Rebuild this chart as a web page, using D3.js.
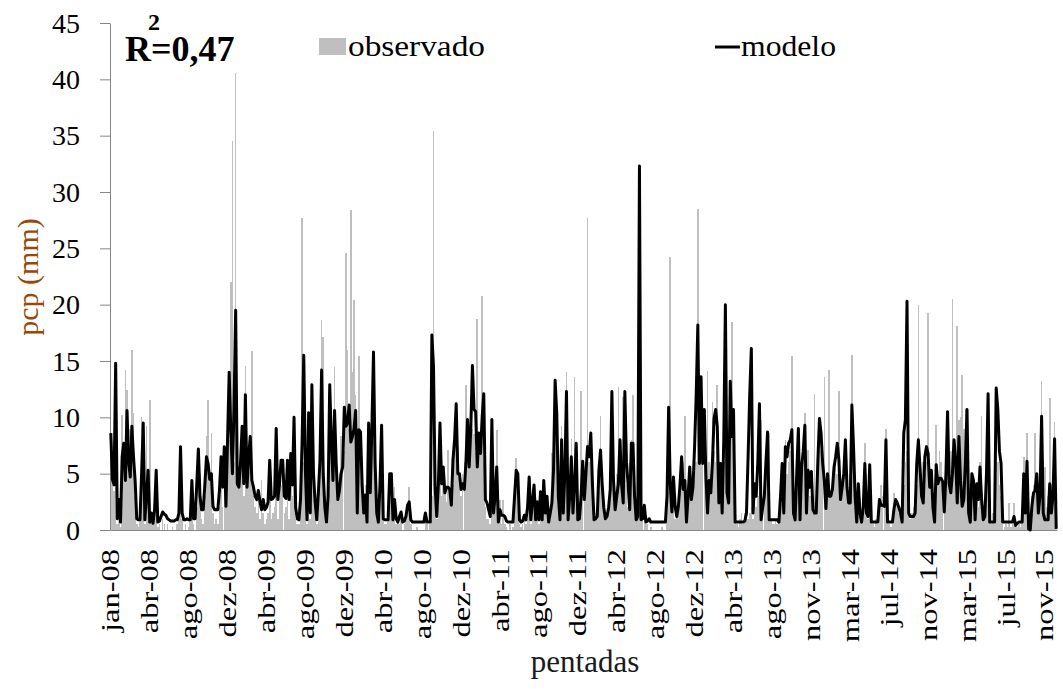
<!DOCTYPE html>
<html>
<head>
<meta charset="utf-8">
<script src="https://cdn.jsdelivr.net/npm/d3@7"></script>
<style>
  body { margin: 0; background: #fff; }
  svg text { font-family: "Liberation Serif", "Times New Roman", Times, "DejaVu Serif", serif !important; }
</style>
</head>
<body>
<div id="chart"></div>
<script>
// precipitação por pêntada (mm), jan-08 .. dez-15
var observado = [
  8.0, 4.0, 3.5, 4.0, 0.5, 1.0, 0.3, 10.2, 6.0, 14.2,
  12.4, 5.0, 9.0, 16.0, 10.4, 3.0, 0.5, 0.3, 2.0, 10.0,
  6.0, 0.5, 9.2, 3.0, 11.5, 1.0, 0.5, 1.0, 2.0, 0.3,
  0.5, 0.0, 1.0, 0.5, 0.0, 0.5, 0.0, 0.0, 0.3, 0.0,
  0.0, 0.5, 2.0, 7.5, 1.0, 0.0, 0.5, 0.0, 0.3, 1.0,
  3.5, 0.5, 0.0, 2.0, 6.8, 5.0, 1.0, 0.5, 3.0, 8.3,
  11.5, 5.0, 8.6, 1.5, 0.5, 1.0, 0.5, 2.0, 5.0, 2.0,
  6.0, 3.0, 7.0, 8.0, 22.0, 34.5, 6.0, 40.6, 9.2, 4.0,
  5.0, 9.2, 3.0, 14.6, 4.0, 5.0, 6.0, 15.9, 3.0, 2.0,
  1.5, 2.5, 1.0, 4.4, 1.5, 0.5, 1.0, 1.5, 4.0, 1.0,
  1.5, 2.0, 6.0, 1.0, 3.0, 4.0, 5.0, 1.5, 2.0, 4.0,
  1.0, 5.0, 3.0, 8.0, 1.0, 0.5, 0.5, 2.0, 27.7, 6.0,
  4.0, 0.5, 8.0, 1.0, 10.0, 4.0, 2.0, 0.5, 3.0, 5.0,
  18.6, 17.1, 3.0, 0.5, 2.0, 10.0, 7.0, 6.0, 14.5, 7.0,
  4.0, 5.0, 8.3, 6.0, 7.0, 24.6, 16.0, 9.0, 28.4, 14.0,
  20.4, 12.0, 3.0, 15.4, 9.0, 5.0, 2.0, 4.0, 1.0, 8.0,
  4.0, 7.0, 10.0, 5.0, 2.0, 1.0, 3.0, 7.0, 1.0, 0.5,
  0.5, 1.0, 4.0, 3.0, 1.0, 3.8, 0.5, 1.0, 0.5, 1.0,
  0.0, 0.5, 1.0, 2.0, 3.8, 0.5, 0.0, 0.0, 0.0, 0.3,
  0.0, 0.0, 0.0, 0.0, 1.0, 0.5, 0.0, 0.5, 3.0, 35.4,
  3.0, 1.0, 2.0, 5.0, 3.0, 4.5, 4.0, 2.5, 7.1, 3.0,
  2.0, 4.0, 7.0, 8.0, 7.4, 4.0, 3.0, 5.0, 6.0, 12.9,
  8.0, 6.0, 8.0, 9.0, 8.5, 9.0, 18.7, 7.0, 8.0, 20.8,
  6.0, 2.0, 1.0, 1.0, 0.5, 6.0, 2.0, 3.0, 8.9, 1.0,
  2.7, 0.5, 2.7, 0.5, 0.3, 0.0, 0.5, 0.0, 0.3, 2.0,
  6.4, 4.0, 0.5, 0.3, 0.5, 1.5, 0.5, 1.0, 4.0, 0.5,
  2.0, 3.0, 1.0, 2.0, 0.5, 2.5, 1.0, 3.5, 2.0, 2.5,
  0.5, 1.0, 6.8, 4.0, 10.0, 9.0, 2.0, 1.5, 9.2, 3.0,
  4.0, 14.0, 2.0, 3.0, 8.1, 2.0, 13.6, 5.0, 1.0, 1.5,
  12.3, 5.0, 3.0, 5.0, 27.7, 6.0, 7.0, 5.0, 1.0, 1.5,
  2.0, 4.0, 10.1, 4.0, 2.0, 1.0, 1.5, 2.0, 3.0, 6.0,
  4.0, 2.0, 5.0, 12.7, 6.0, 3.0, 11.8, 6.0, 4.0, 2.0,
  6.0, 8.0, 12.0, 5.0, 2.0, 1.0, 4.4, 2.0, 1.0, 1.5,
  0.5, 0.5, 0.0, 0.3, 0.0, 0.0, 0.0, 0.0, 0.0, 0.0,
  0.3, 0.0, 0.0, 3.0, 5.0, 24.2, 2.0, 4.0, 1.0, 1.5,
  2.0, 5.0, 4.0, 6.0, 10.1, 2.0, 3.0, 4.0, 3.0, 5.0,
  7.0, 6.0, 28.5, 8.0, 7.0, 6.0, 8.0, 5.0, 14.1, 6.0,
  5.0, 11.4, 7.0, 6.0, 12.9, 4.0, 6.0, 5.0, 6.0, 7.0,
  5.0, 6.0, 7.0, 18.5, 6.0, 2.0, 0.5, 0.3, 1.0, 1.5,
  0.5, 1.5, 2.0, 1.0, 1.5, 2.0, 1.0, 3.0, 2.0, 3.0,
  4.0, 9.8, 2.0, 3.0, 5.0, 6.0, 8.6, 1.0, 0.5, 0.5,
  1.0, 0.5, 1.0, 3.0, 5.0, 2.0, 8.0, 5.0, 6.0, 7.0,
  15.4, 2.0, 1.0, 4.0, 7.0, 1.0, 4.0, 6.0, 10.4, 2.0,
  7.1, 3.0, 4.0, 3.0, 12.1, 2.0, 5.0, 8.0, 7.0, 5.0,
  13.6, 3.0, 4.0, 14.2, 3.0, 4.0, 5.0, 6.0, 5.0, 12.3,
  3.0, 4.0, 5.0, 6.0, 4.0, 3.0, 5.0, 15.5, 6.0, 2.0,
  1.0, 4.0, 1.5, 1.0, 2.0, 7.7, 5.0, 1.0, 4.0, 1.0,
  0.5, 0.3, 1.0, 0.5, 2.0, 4.0, 3.0, 2.0, 9.0, 1.0,
  0.5, 0.3, 1.0, 3.3, 2.0, 2.5, 1.5, 1.0, 0.5, 4.0,
  6.0, 7.0, 2.0, 1.0, 1.5, 2.0, 3.0, 4.0, 20.0, 5.0,
  3.0, 6.0, 5.0, 6.0, 19.3, 5.0, 4.0, 2.0, 3.0, 9.3,
  5.0, 7.0, 6.0, 4.0, 3.0, 6.0, 8.0, 6.0, 7.0, 20.5,
  6.0, 7.0, 18.1, 9.8, 10.0, 13.8, 9.0, 10.7, 6.0, 2.0,
  1.0, 4.0, 3.0, 2.0, 3.0, 2.0, 6.0, 10.1, 2.0, 1.0,
  4.0, 11.5, 1.0, 0.5, 1.5, 0.5, 9.0, 6.0, 4.0, 3.0,
  0.5, 0.3, 0.5, 0.3, 2.4, 0.3, 0.5, 2.4, 1.0, 0.3,
  0.5, 0.3, 1.0, 6.5, 2.0, 8.6, 1.0, 0.5, 3.0, 4.0,
  8.6, 5.0, 3.0, 4.0, 13.2, 4.0, 5.6, 2.0, 3.0, 11.7,
  4.0, 3.0, 9.6, 3.0
];

var modelo = [
  8.6, 4.5, 4.0, 14.8, 1.0, 2.7, 0.7, 6.5, 7.7, 4.4,
  10.6, 6.0, 4.7, 9.2, 6.5, 4.4, 1.0, 0.9, 0.9, 5.0,
  9.5, 0.9, 3.0, 5.3, 0.7, 1.5, 0.6, 1.8, 5.3, 0.7,
  0.8, 1.2, 1.6, 1.4, 1.3, 1.0, 0.9, 0.8, 0.8, 0.8,
  0.9, 0.9, 1.5, 7.4, 1.5, 0.9, 0.9, 1.0, 0.9, 0.9,
  4.4, 1.0, 1.0, 4.0, 7.2, 3.0, 1.8, 1.8, 4.0, 6.5,
  5.9, 4.5, 5.0, 2.1, 1.8, 1.8, 1.8, 3.5, 6.5, 3.8,
  7.4, 2.1, 8.0, 14.0, 8.9, 5.0, 10.9, 19.5, 4.1, 3.8,
  6.0, 9.2, 4.1, 12.0, 3.8, 6.5, 8.3, 4.4, 3.8, 3.0,
  2.7, 3.5, 2.5, 1.8, 2.7, 1.8, 2.0, 2.5, 6.2, 2.7,
  2.8, 3.0, 9.0, 2.7, 4.0, 6.2, 6.2, 3.0, 2.8, 6.2,
  2.7, 6.8, 4.0, 10.0, 2.0, 1.0, 0.9, 2.7, 8.0, 15.5,
  5.3, 0.9, 10.4, 1.5, 12.9, 5.0, 2.5, 0.9, 3.3, 6.2,
  14.2, 5.0, 2.0, 0.7, 3.0, 12.9, 8.0, 4.4, 10.6, 5.9,
  2.7, 3.5, 5.0, 5.6, 10.9, 9.2, 9.5, 11.1, 7.8, 8.3,
  9.0, 10.6, 1.5, 8.9, 8.7, 4.0, 1.5, 3.1, 0.7, 9.5,
  3.3, 9.0, 15.8, 5.9, 1.5, 0.7, 4.0, 9.3, 1.0, 0.9,
  0.9, 0.9, 5.0, 5.0, 0.9, 2.7, 1.0, 0.7, 1.2, 1.6,
  0.7, 0.8, 1.2, 2.2, 2.5, 0.9, 0.7, 0.7, 0.7, 0.7,
  0.7, 0.7, 0.7, 0.7, 1.5, 0.7, 0.7, 0.7, 17.3, 14.5,
  3.8, 1.2, 4.0, 9.5, 4.1, 5.6, 3.3, 3.8, 3.8, 3.6,
  2.2, 6.2, 8.0, 11.2, 5.0, 5.0, 3.6, 4.1, 3.6, 6.0,
  9.8, 5.6, 9.0, 14.6, 10.7, 10.5, 5.6, 8.6, 6.8, 10.0,
  12.1, 2.7, 2.4, 1.8, 1.2, 9.8, 1.5, 3.0, 5.6, 0.7,
  1.8, 1.3, 1.3, 1.2, 0.8, 0.7, 0.7, 0.7, 0.7, 3.0,
  5.3, 5.0, 0.9, 0.7, 0.8, 1.3, 0.9, 2.0, 4.7, 0.9,
  2.5, 4.0, 0.9, 2.5, 0.9, 3.4, 0.9, 4.4, 1.5, 3.0,
  0.7, 1.5, 2.4, 5.3, 13.3, 10.4, 3.0, 0.9, 8.0, 1.5,
  5.0, 12.3, 0.9, 3.0, 6.5, 1.5, 4.0, 7.7, 0.9, 1.0,
  3.0, 6.1, 2.7, 5.0, 7.4, 6.5, 8.6, 4.1, 0.9, 1.0,
  1.2, 5.3, 7.1, 4.1, 2.0, 1.0, 1.2, 2.0, 3.6, 12.3,
  4.4, 1.8, 3.0, 4.1, 8.0, 4.0, 2.4, 12.3, 6.0, 4.1,
  1.8, 7.7, 7.7, 3.0, 0.9, 1.2, 32.3, 0.9, 1.0, 2.2,
  0.7, 0.8, 1.0, 0.7, 0.7, 0.7, 0.7, 0.7, 0.7, 0.7,
  0.7, 0.7, 0.7, 3.0, 10.9, 4.1, 1.6, 4.7, 2.1, 1.2,
  2.1, 4.0, 6.5, 3.6, 4.4, 0.7, 3.0, 5.6, 2.7, 3.8,
  7.4, 12.0, 18.2, 5.9, 13.6, 5.9, 10.7, 4.7, 1.5, 4.4,
  3.3, 6.0, 9.9, 10.7, 9.2, 2.4, 5.9, 1.5, 8.0, 20.0,
  3.3, 2.4, 13.2, 8.3, 10.7, 0.7, 0.7, 0.7, 0.7, 0.7,
  0.7, 0.8, 1.5, 6.5, 12.0, 16.1, 1.5, 4.1, 3.0, 6.0,
  11.2, 0.9, 2.0, 3.0, 6.0, 8.7, 0.9, 0.9, 0.9, 0.9,
  0.9, 0.9, 0.7, 3.0, 5.9, 1.5, 7.4, 6.5, 7.7, 8.0,
  8.9, 1.5, 0.9, 5.0, 9.0, 0.9, 5.6, 7.0, 9.3, 1.5,
  5.3, 3.8, 5.2, 1.8, 1.5, 1.5, 6.0, 9.9, 8.6, 5.9,
  4.4, 1.9, 5.0, 3.0, 3.0, 3.6, 5.6, 6.5, 7.7, 6.2,
  2.7, 3.8, 5.0, 8.0, 3.8, 2.4, 2.4, 11.1, 7.4, 3.0,
  0.7, 4.1, 1.5, 0.7, 2.0, 5.9, 1.5, 1.2, 5.8, 0.7,
  0.7, 0.7, 0.7, 0.7, 2.7, 2.2, 2.2, 2.1, 8.0, 0.7,
  0.7, 0.7, 0.7, 1.9, 2.7, 2.4, 2.0, 1.5, 0.7, 8.6,
  9.8, 20.3, 1.5, 1.2, 1.2, 1.2, 1.5, 5.9, 8.0, 5.6,
  3.0, 2.4, 6.5, 7.4, 6.8, 3.8, 5.3, 2.0, 0.7, 5.8,
  4.1, 4.6, 4.6, 4.3, 1.6, 5.0, 10.5, 4.1, 3.3, 5.0,
  8.0, 6.2, 2.4, 8.3, 4.4, 2.1, 2.7, 6.0, 10.7, 1.5,
  0.7, 5.0, 4.4, 0.9, 4.1, 2.7, 5.6, 2.7, 0.9, 1.2,
  5.0, 12.1, 0.7, 0.7, 0.7, 0.7, 12.6, 10.7, 7.0, 5.9,
  0.7, 0.7, 0.7, 0.7, 0.7, 0.7, 0.7, 1.2, 0.4, 0.6,
  0.7, 0.7, 0.7, 5.0, 1.5, 6.1, 0.1, 0.0, 2.1, 3.3,
  3.5, 5.0, 1.5, 3.0, 10.1, 1.5, 0.9, 0.9, 0.9, 4.1,
  1.5, 3.0, 8.1, 0.1
];

// um rótulo a cada 24 pêntadas
var tickLabels = ["jan-08", "abr-08", "ago-08", "dez-08", "abr-09", "ago-09", "dez-09",
  "abr-10", "ago-10", "dez-10", "abr-11", "ago-11", "dez-11", "abr-12", "ago-12",
  "dez-12", "abr-13", "ago-13", "nov-13", "mar-14", "jul-14", "nov-14", "mar-15",
  "jul-15", "nov-15"];
var tickStep = 24;
var yTicks = [0, 5, 10, 15, 20, 25, 30, 35, 40, 45];

var serif = '"Liberation Serif", "Times New Roman", Times, serif';

var margin = { top: 23, right: 6, bottom: 159, left: 110 },
    width = 1063 - margin.left - margin.right,
    height = 689 - margin.top - margin.bottom;

var svg = d3.select("#chart").append("svg")
    .attr("width", 1063).attr("height", 689)
    .attr("font-family", serif);

var g = svg.append("g")
    .attr("transform", "translate(" + margin.left + "," + margin.top + ")");

var xScale = d3.scaleBand().domain(d3.range(observado.length)).range([0, width]).paddingInner(0.02);
var yScale = d3.scaleLinear().domain([0, 45]).range([height, 0]);
var half = xScale.bandwidth() / 2;

// barras observadas
g.append("g")
    .attr("shape-rendering", "crispEdges")
    .selectAll("rect")
    .data(observado)
    .enter().append("rect")
    .attr("x", function(d, i) { return xScale(i); })
    .attr("width", xScale.bandwidth())
    .attr("y", function(d) { return yScale(d); })
    .attr("height", function(d) { return height - yScale(d); })
    .attr("fill", "#bfbfbf");

// eixo y
var yAxis = g.append("g")
    .call(d3.axisLeft(yScale).tickValues(yTicks).tickSize(10).tickSizeOuter(0).tickPadding(20));
yAxis.attr("font-family", serif);
yAxis.select(".domain").attr("stroke", "#868686");
yAxis.selectAll(".tick line").attr("stroke", "#868686");
yAxis.selectAll(".tick text")
    .attr("font-size", 28).attr("fill", "#000")
    .attr("dy", "0.33em");

// eixo x
var xAxis = g.append("g")
    .attr("transform", "translate(0," + height + ")")
    .call(d3.axisBottom(xScale)
        .tickValues(d3.range(0, observado.length, tickStep))
        .tickFormat(function(i) { return tickLabels[i / tickStep]; })
        .tickSize(0));
xAxis.attr("font-family", serif);
xAxis.select(".domain").attr("stroke", "#868686");
xAxis.selectAll(".tick text")
    .attr("font-size", 26).attr("fill", "#000")
    .attr("y", null)
    .attr("text-anchor", "end")
    .attr("dy", "0.33em")
    .attr("transform", "translate(0,19) rotate(-90) scale(1.25,1)");

// linha do modelo
g.append("path")
    .datum(modelo)
    .attr("fill", "none")
    .attr("stroke", "#000")
    .attr("stroke-width", 3)
    .attr("stroke-linejoin", "round")
    .attr("d", d3.line()
        .x(function(d, i) { return xScale(i) + half; })
        .y(function(d) { return yScale(d); }));

// títulos dos eixos
svg.append("text")
    .attr("transform", "translate(38,277) rotate(-90)")
    .attr("text-anchor", "middle")
    .attr("font-size", 30)
    .attr("fill", "#984807")
    .text("pcp (mm)");

svg.append("text")
    .attr("x", 585).attr("y", 672)
    .attr("text-anchor", "middle")
    .attr("font-size", 31)
    .attr("fill", "#1a1a1a")
    .text("pentadas");

// R² num só texto, o "2" fica por cima entre o R e o =
var r2 = svg.append("text")
    .attr("x", 125).attr("y", 61)
    .attr("font-size", 36).attr("font-weight", "bold");
r2.append("tspan").text("R");
r2.append("tspan").attr("dx", -3).attr("dy", -31).attr("font-size", 24).text("2");
r2.append("tspan").attr("dx", -9).attr("dy", 31).text("=0,47");

// legenda
svg.append("rect")
    .attr("x", 319).attr("y", 38).attr("width", 27).attr("height", 17)
    .attr("fill", "#bfbfbf");
svg.append("text")
    .attr("x", 348).attr("y", 56)
    .attr("font-size", 30)
    .attr("textLength", 137).attr("lengthAdjust", "spacingAndGlyphs")
    .text("observado");

svg.append("line")
    .attr("x1", 715).attr("x2", 740).attr("y1", 47).attr("y2", 47)
    .attr("stroke", "#000").attr("stroke-width", 3);
svg.append("text")
    .attr("x", 741).attr("y", 56)
    .attr("font-size", 30)
    .attr("textLength", 95).attr("lengthAdjust", "spacingAndGlyphs")
    .text("modelo");
</script>
</body>
</html>
